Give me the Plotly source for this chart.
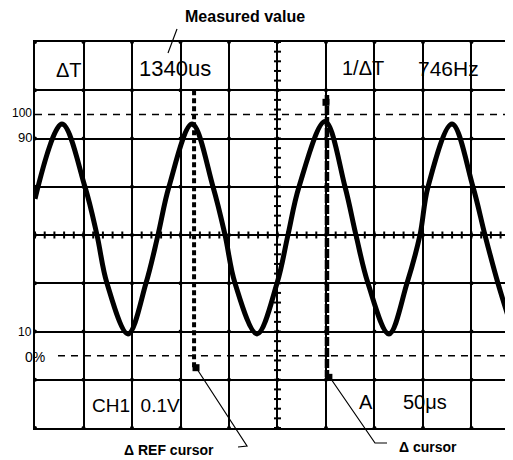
import plotly.graph_objects as go

# ---- data ----
time_us = [0, 27.8, 51.5, 63.9, 74.2, 95.9, 114.4, 126.8, 138.1, 161.9, 183.5, 195.9,
           206.2, 228.9, 249.5, 260.8, 272.2, 299.0, 319.6, 330.9, 343.3, 364.9, 383.5,
           396.9, 405.2, 429.9, 451.5, 463.9, 477.3, 492.8]
level_pct = [65, 96, 70, 50, 30, 9, 30, 50, 70, 96, 70, 50,
             30, 9, 30, 50, 70, 97, 70, 50, 30, 9, 30,
             50, 70, 96, 70, 50, 30, 10]
ref_cursor_us = 164
delta_cursor_us = 301
left_labels = ["100", "90", "10", "0%"]

X_MAX = 492.8
Y_MIN, Y_MAX = -30, 130
L, T, W, H = 35, 42, 478, 386   # plot area in page pixels
OFF = 8                          # page body margin

def px(x):
    return (x - L) / W

def py(y):
    return (T + H - y) / H

fig = go.Figure()

# grid intersection dots
gx, gy = [], []
for i in range(0, 10):
    for j in range(0, 9):
        gx.append(i * 50)
        gy.append(Y_MIN + j * 20)
fig.add_trace(go.Scatter(x=gx, y=gy, mode="markers",
                         marker=dict(symbol="circle", size=4, color="black"),
                         hoverinfo="skip", showlegend=False))
# minor ticks on centre lines
mx = [i * 10 for i in range(0, 50)]
fig.add_trace(go.Scatter(x=mx, y=[50] * len(mx), mode="markers",
                         marker=dict(symbol="line-ns", size=5, line=dict(width=2, color="black")),
                         hoverinfo="skip", showlegend=False))
my = [Y_MIN + i * 4 for i in range(0, 41)]
fig.add_trace(go.Scatter(x=[250] * len(my), y=my, mode="markers",
                         marker=dict(symbol="line-ew", size=5, line=dict(width=2, color="black")),
                         hoverinfo="skip", showlegend=False))

# waveform
fig.add_trace(go.Scatter(x=time_us, y=level_pct, mode="lines",
                         line=dict(color="black", width=5, shape="spline", smoothing=1.0),
                         hoverinfo="skip", showlegend=False))

# cursors
fig.add_trace(go.Scatter(x=[ref_cursor_us, ref_cursor_us], y=[110, -5], mode="lines",
                         line=dict(color="black", width=4, dash="5px,3px"),
                         hoverinfo="skip", showlegend=False))
fig.add_trace(go.Scatter(x=[delta_cursor_us, delta_cursor_us], y=[108, -9], mode="lines",
                         line=dict(color="black", width=4.5, dash="9px,2px"),
                         hoverinfo="skip", showlegend=False))
fig.add_trace(go.Scatter(x=[ref_cursor_us + 2, delta_cursor_us + 2, delta_cursor_us - 1],
                         y=[-5, -9, 105], mode="markers",
                         marker=dict(symbol="square", size=7, color="black"),
                         hoverinfo="skip", showlegend=False))

shapes = []
# 100% and 0% dashed reference lines
shapes.append(dict(type="line", xref="x", yref="y", x0=0, x1=X_MAX, y0=100, y1=100,
                   line=dict(color="black", width=1.5, dash="7px,6px")))
shapes.append(dict(type="line", xref="x", yref="y", x0=23.7, x1=X_MAX, y0=0, y1=0,
                   line=dict(color="black", width=1.5, dash="7px,6px")))
# leader lines
shapes.append(dict(type="path", xref="paper", yref="paper",
                   path=f"M {px(168)} {py(53)} L {px(177)} {py(29)}",
                   line=dict(color="black", width=1.2)))
shapes.append(dict(type="path", xref="paper", yref="paper",
                   path=f"M {px(197)} {py(369)} L {px(247)} {py(446)} L {px(238)} {py(447)}",
                   line=dict(color="black", width=1.2)))
shapes.append(dict(type="path", xref="paper", yref="paper",
                   path=f"M {px(331)} {py(379)} L {px(375)} {py(443)} L {px(387)} {py(443)}",
                   line=dict(color="black", width=1.2)))

FONT = "Liberation Sans"
ann = []
def text(t, x, y, size, anchor="left", bold=False):
    ann.append(dict(text=(f"<b>{t}</b>" if bold else t), x=px(x), y=py(y), xref="paper", yref="paper",
                    xanchor=anchor, yanchor="middle", showarrow=False,
                    font=dict(family=FONT, size=size, color="black")))

text("Measured value", 245, 17, 16, "center", bold=True)
text("ΔT", 54, 70, 20)
text("1340us", 137, 68, 22)
text("1/ΔT", 340, 68, 20)
text("746Hz", 416, 68, 21)
text("CH1  0.1V", 90, 405, 19)
text("A", 357, 402, 20)
text("50μs", 401, 402, 20)
text("Δ REF cursor", 169, 450, 14, "center", bold=True)
text("Δ cursor", 428, 447, 14, "center", bold=True)
label_px = [113, 137, 332, 357]
label_right = [34, 34, 34, 47]
label_size = [12, 13, 12, 14]
for t, yy, xr, s in zip(left_labels, label_px, label_right, label_size):
    text(t, xr, yy, s, "right")

FIG_W, FIG_H = 513 - OFF, 460 - OFF
fig.update_layout(
    width=FIG_W, height=FIG_H,
    margin=dict(l=L - OFF, r=FIG_W - (L - OFF) - W, t=T - OFF, b=FIG_H - (T - OFF) - H, pad=0),
    paper_bgcolor="white", plot_bgcolor="white",
    shapes=shapes, annotations=ann,
    xaxis=dict(range=[0, X_MAX], dtick=50, tick0=0, showgrid=True, gridcolor="black",
               gridwidth=1.5, showline=True, linecolor="black", linewidth=1.5, mirror=True,
               showticklabels=False, ticks="", zeroline=False, fixedrange=True),
    yaxis=dict(range=[Y_MIN, Y_MAX], dtick=20, tick0=Y_MIN, showgrid=True, gridcolor="black",
               gridwidth=1.5, showline=True, linecolor="black", linewidth=1.5,
               showticklabels=False, ticks="", zeroline=False, fixedrange=True),
)

fig.write_html("out.html")
